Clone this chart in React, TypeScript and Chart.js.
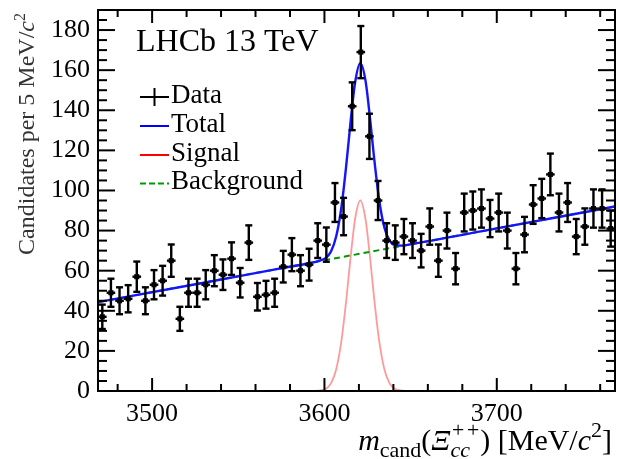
import { useEffect, useRef } from "react";
import { Chart, registerables } from "chart.js";

Chart.register(...registerables);

// Mass window of the fit [MeV/c^2]
const massMin = 3468.6;
const massMax = 3768.6;
const binWidth = 5;

// Bin centres of the candidate-mass histogram
const binCentres = [
  3471.1, 3476.1, 3481.1, 3486.1, 3491.1, 3496.1, 3501.1, 3506.1, 3511.1, 3516.1,
  3521.1, 3526.1, 3531.1, 3536.1, 3541.1, 3546.1, 3551.1, 3556.1, 3561.1, 3566.1,
  3571.1, 3576.1, 3581.1, 3586.1, 3591.1, 3596.1, 3601.1, 3606.1, 3611.1, 3616.1,
  3621.1, 3626.1, 3631.1, 3636.1, 3641.1, 3646.1, 3651.1, 3656.1, 3661.1, 3666.1,
  3671.1, 3676.1, 3681.1, 3686.1, 3691.1, 3696.1, 3701.1, 3706.1, 3711.1, 3716.1,
  3721.1, 3726.1, 3731.1, 3736.1, 3741.1, 3746.1, 3751.1, 3756.1, 3761.1, 3766.1,
];

// Candidates per bin
const counts = [
  37, 49, 45, 46, 57, 45, 53, 55, 65, 36,
  49, 49, 53, 60, 58, 66, 54, 74, 47, 48,
  49, 62, 68, 60, 63, 75, 73, 94, 87, 142,
  169, 127, 95, 75, 74, 77, 75, 70, 82, 65,
  80, 61, 89, 90, 91, 86, 89, 80, 61, 78,
  93, 96, 108, 89, 94, 77, 82, 91, 91, 81,
];

// Fit components sampled along the mass axis
const totalMass = [
  3468.6, 3530, 3570, 3590.8, 3596.8, 3600.8, 3603.8, 3606.8, 3609.8, 3612.8,
  3615.3, 3617.8, 3620.8, 3623.8, 3626.3, 3628.8, 3631.8, 3634.8, 3637.8, 3640.8,
  3644.8, 3650.8, 3700, 3768.6,
];
const totalValues = [
  44.3, 54.0, 60.4, 63.7, 64.9, 66.4, 69.6, 77.0, 91.4, 113.8,
  135.4, 153.9, 163.5, 154.9, 137.2, 116.4, 95.0, 81.4, 75.0, 72.8,
  72.5, 73.3, 81.1, 92.0,
];

const signalMass = [
  3468.6, 3590.8, 3596.8, 3600.8, 3603.8, 3606.8, 3609.8, 3612.8, 3615.3, 3617.8,
  3620.8, 3623.8, 3626.3, 3628.8, 3631.8, 3634.8, 3637.8, 3640.8, 3644.8, 3650.8,
  3768.6,
];
const signalValues = [
  0, 0, 0.2, 1.1, 3.8, 10.7, 24.7, 46.6, 67.8, 85.9,
  95.0, 85.9, 67.8, 46.6, 24.7, 10.7, 3.8, 1.1, 0.2, 0,
  0,
];

const backgroundMass = [3468.6, 3768.6];
const backgroundValues = [44.3, 92.0];

// Axis labelling
const xTickLabels = [3500, 3600, 3700];
const yTickLabels = [0, 20, 40, 60, 80, 100, 120, 140, 160, 180];
const yMax = 190;

const SERIF = '"Liberation Serif", "Times New Roman", serif';

type RichPart =
  | { text: string; font: string; dy?: number }
  | { sub: string; sup: string; font: string; subDy: number; supDy: number };

function drawRich(
  ctx: CanvasRenderingContext2D,
  parts: RichPart[],
  x: number,
  y: number,
  align: "left" | "right"
) {
  const widths = parts.map((p) => {
    ctx.font = p.font;
    if ("sub" in p) {
      return Math.max(ctx.measureText(p.sub).width, ctx.measureText(p.sup).width);
    }
    return ctx.measureText(p.text).width;
  });
  const total = widths.reduce((a, b) => a + b, 0);
  let cx = align === "right" ? x - total : x;
  ctx.textAlign = "left";
  ctx.textBaseline = "alphabetic";
  parts.forEach((p, i) => {
    ctx.font = p.font;
    if ("sub" in p) {
      ctx.fillText(p.sub, cx, y + p.subDy);
      ctx.fillText(p.sup, cx, y + p.supDy);
    } else {
      ctx.fillText(p.text, cx, y + (p.dy ?? 0));
    }
    cx += widths[i];
  });
}

function line(ctx: CanvasRenderingContext2D, x1: number, y1: number, x2: number, y2: number) {
  ctx.beginPath();
  ctx.moveTo(x1, y1);
  ctx.lineTo(x2, y2);
  ctx.stroke();
}

const decorations = {
  id: "hepDecorations",
  afterDatasetsDraw(chart: any) {
    const ctx: CanvasRenderingContext2D = chart.ctx;
    const xs = chart.scales.x;
    const ys = chart.scales.y;
    ctx.save();
    ctx.strokeStyle = "#000";
    ctx.lineWidth = 2.4;
    binCentres.forEach((m, i) => {
      const n = counts[i];
      const err = Math.sqrt(n);
      const px = xs.getPixelForValue(m);
      const py = ys.getPixelForValue(n);
      const pLo = ys.getPixelForValue(n - err);
      const pHi = ys.getPixelForValue(n + err);
      const xl = xs.getPixelForValue(m - binWidth / 2);
      const xr = xs.getPixelForValue(m + binWidth / 2);
      line(ctx, px, pLo, px, pHi);
      line(ctx, xl, py, xr, py);
      line(ctx, px - 3.5, pLo, px + 3.5, pLo);
      line(ctx, px - 3.5, pHi, px + 3.5, pHi);
    });
    ctx.restore();
  },
  afterDraw(chart: any) {
    const ctx: CanvasRenderingContext2D = chart.ctx;
    const { left, right, top, bottom } = chart.chartArea;
    const xs = chart.scales.x;
    const ys = chart.scales.y;
    ctx.save();
    ctx.strokeStyle = "#000";
    ctx.lineWidth = 2;
    ctx.strokeRect(left, top, right - left, bottom - top);

    // inward ticks on all four sides
    for (let v = 3480; v < massMax; v += 20) {
      const px = xs.getPixelForValue(v);
      const len = v % 100 === 0 ? 13 : 7;
      line(ctx, px, bottom, px, bottom - len);
      line(ctx, px, top, px, top + len);
    }
    for (let v = 5; v < yMax; v += 5) {
      const py = ys.getPixelForValue(v);
      const len = v % 20 === 0 ? 17 : 9;
      line(ctx, left, py, left + len, py);
      line(ctx, right, py, right - len, py);
    }

    ctx.fillStyle = "#000";
    // experiment label
    ctx.font = `32px ${SERIF}`;
    ctx.textAlign = "left";
    ctx.textBaseline = "alphabetic";
    ctx.fillText("LHCb 13 TeV", 136, 51);

    // legend
    const legX0 = 140;
    const legX1 = 169;
    const textX = 171;
    ctx.lineWidth = 2;
    ctx.strokeStyle = "#000";
    line(ctx, legX0, 97, legX1, 97);
    line(ctx, (legX0 + legX1) / 2, 88, (legX0 + legX1) / 2, 106);
    ctx.strokeStyle = "#0000ff";
    line(ctx, legX0, 126, legX1, 126);
    ctx.strokeStyle = "#ff0000";
    line(ctx, legX0, 155, legX1, 155);
    ctx.strokeStyle = "#009a00";
    ctx.setLineDash([6, 3]);
    line(ctx, legX0, 183.5, legX1, 183.5);
    ctx.setLineDash([]);
    ctx.font = `27px ${SERIF}`;
    ctx.fillText("Data", textX, 103);
    ctx.fillText("Total", textX, 132);
    ctx.fillText("Signal", textX, 161);
    ctx.fillText("Background", textX, 189);

    // x-axis title
    const big = `30px ${SERIF}`;
    const bigIt = `italic 30px ${SERIF}`;
    const small = `22px ${SERIF}`;
    const smallIt = `italic 22px ${SERIF}`;
    drawRich(
      ctx,
      [
        { text: "m", font: bigIt },
        { text: "cand", font: small, dy: 7 },
        { text: "(", font: big },
        { text: "Ξ", font: bigIt },
        { sub: "cc", sup: "++", font: smallIt, subDy: 7, supDy: -13 },
        { text: ") [MeV/", font: big },
        { text: "c", font: bigIt },
        { text: "2", font: small, dy: -13 },
        { text: "]", font: big },
      ],
      612,
      450,
      "right"
    );

    // y-axis title, reading upwards, ending at the top of the frame
    ctx.fillStyle = "#333";
    ctx.translate(34, 13);
    ctx.rotate(-Math.PI / 2);
    drawRich(
      ctx,
      [
        { text: "Candidates per 5 MeV/", font: `24px ${SERIF}` },
        { text: "c", font: `italic 24px ${SERIF}` },
        { text: "2", font: `16px ${SERIF}`, dy: -9 },
      ],
      0,
      0,
      "right"
    );
    ctx.restore();
  },
};

export default function App() {
  const canvasRef = useRef<HTMLCanvasElement>(null);

  useEffect(() => {
    const canvas = canvasRef.current;
    if (!canvas) return;
    const chart = new Chart(canvas, {
      type: "scatter",
      data: {
        datasets: [
          {
            label: "Data",
            data: binCentres.map((x, i) => ({ x, y: counts[i] })),
            pointStyle: "rect",
            pointRadius: 3.6,
            backgroundColor: "#000",
            borderColor: "#000",
            borderWidth: 0,
            showLine: false,
            order: 0,
          },
          {
            label: "Total",
            type: "line",
            data: totalMass.map((x, i) => ({ x, y: totalValues[i] })),
            borderColor: "#1414ff",
            borderWidth: 2.4,
            pointRadius: 0,
            cubicInterpolationMode: "monotone",
            fill: false,
            order: 1,
          },
          {
            label: "Background",
            type: "line",
            data: backgroundMass.map((x, i) => ({ x, y: backgroundValues[i] })),
            borderColor: "#009a00",
            borderWidth: 2,
            borderDash: [6, 4],
            pointRadius: 0,
            fill: false,
            order: 2,
          },
          {
            label: "Signal",
            type: "line",
            data: signalMass.map((x, i) => ({ x, y: signalValues[i] })),
            borderColor: "rgba(255, 30, 30, 0.45)",
            borderWidth: 1.8,
            pointRadius: 0,
            cubicInterpolationMode: "monotone",
            fill: false,
            order: 3,
          },
        ],
      } as any,
      options: {
        responsive: false,
        animation: false,
        events: [],
        layout: { padding: { top: 10, right: 1, left: 0, bottom: 0 } },
        plugins: { legend: { display: false }, tooltip: { enabled: false } },
        scales: {
          x: {
            type: "linear",
            min: massMin,
            max: massMax,
            afterBuildTicks: (s: any) => {
              s.ticks = xTickLabels.map((v) => ({ value: v }));
            },
            afterFit: (s: any) => {
              s.height = 68;
              s.paddingLeft = 0;
              s.paddingRight = 0;
            },
            grid: { display: false },
            border: { display: false },
            ticks: {
              font: { family: SERIF, size: 26 },
              color: "#000",
              padding: 0,
              maxRotation: 0,
              autoSkip: false,
              callback: (v: any) => String(v),
            },
          },
          y: {
            type: "linear",
            min: 0,
            max: yMax,
            afterBuildTicks: (s: any) => {
              s.ticks = yTickLabels.map((v) => ({ value: v }));
            },
            afterFit: (s: any) => {
              s.width = 98;
              s.paddingTop = 0;
              s.paddingBottom = 0;
            },
            grid: { display: false },
            border: { display: false },
            ticks: {
              font: { family: SERIF, size: 26 },
              color: "#000",
              padding: 0,
              autoSkip: false,
              callback: (v: any) => String(v),
            },
          },
        },
      },
      plugins: [decorations],
    });
    return () => chart.destroy();
  }, []);

  return (
    <div
      style={{
        position: "absolute",
        left: 0,
        top: 0,
        width: 619,
        height: 459,
        background: "#fff",
      }}
    >
      <canvas ref={canvasRef} width={619} height={459} style={{ display: "block" }} />
    </div>
  );
}
